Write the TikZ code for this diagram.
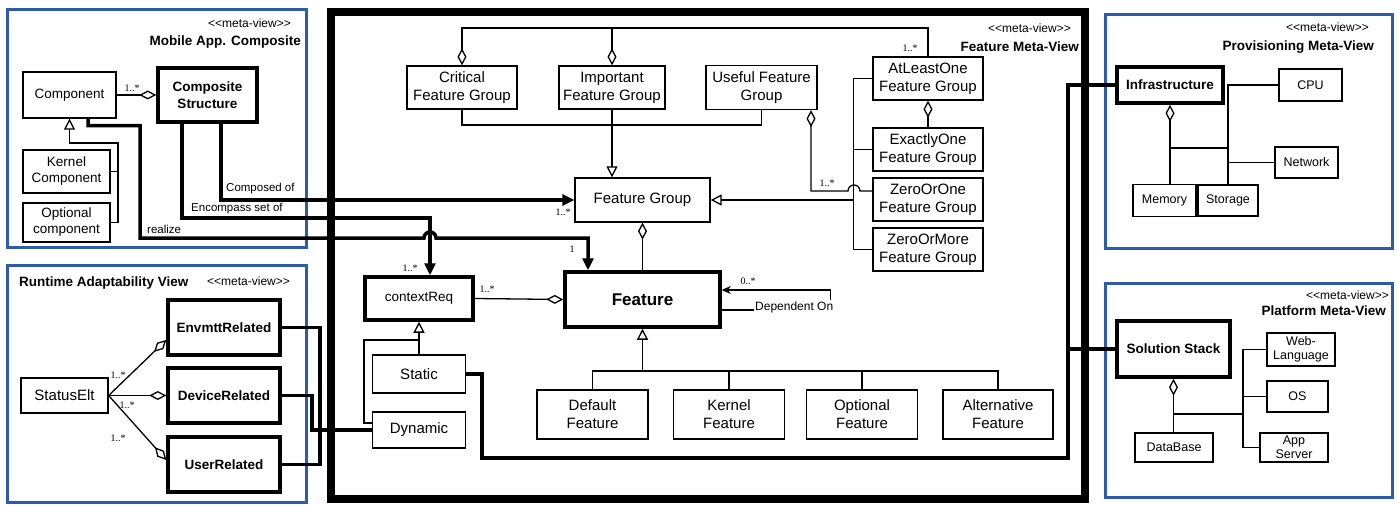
\documentclass[tikz,border=0pt]{standalone}
\usepackage{fontspec}
\setmainfont{Liberation Sans}
\newfontfamily\multfont{Liberation Serif}
\usepackage{tikz}
\usetikzlibrary{arrows.meta, positioning}
\definecolor{viewblue}{RGB}{46,92,168}
\tikzstyle{classbox} = [rectangle, 
draw=black, 
line width=1.3pt, 
align=center, 
inner sep=0pt, 
font=\fontsize{15}{18}\selectfont]
\tikzstyle{groupbox} = [classbox, 
minimum width=110pt, 
minimum height=43pt]
\tikzstyle{featbox} = [classbox, 
minimum width=111pt, 
minimum height=49pt]
\tikzstyle{compbox} = [classbox, 
minimum width=87pt, 
font=\fontsize{13.5}{16}\selectfont]
\tikzstyle{smallbox} = [classbox, 
font=\fontsize{12.5}{14}\selectfont]
\tikzstyle{keybox} = [classbox, 
line width=3.5pt, 
font=\fontsize{13.5}{17}\selectfont\bfseries]
\tikzstyle{viewframe} = [draw=viewblue, line width=3pt]
\tikzstyle{stereo} = [font=\fontsize{12}{14}\selectfont, inner sep=0pt, anchor=east]
\tikzstyle{viewname} = [font=\fontsize{13.5}{16}\selectfont\bfseries, inner sep=0pt, anchor=east]
\tikzstyle{mult} = [font=\multfont\fontsize{10}{12}\selectfont, inner sep=1pt]
\tikzstyle{rolename} = [font=\fontsize{11.5}{14}\selectfont, inner sep=1pt, anchor=west]
\tikzstyle{thinline} = [line width=1.3pt]
\tikzstyle{aggr} = [thinline, -{Diamond[open, length=17pt, width=9pt]}]
\tikzstyle{inherit} = [thinline, -{Triangle[open, length=11pt, width=11pt]}]
\tikzstyle{depend} = [thinline, -{Stealth[length=9pt, width=8pt]}]
\tikzstyle{link} = [line width=3.5pt]
\tikzstyle{linkarrow} = [link, -{Triangle[length=12pt, width=11pt]}]

\begin{document}
\begin{tikzpicture}[x=1pt, y=-1pt, node distance=50pt]
\useasboundingbox (0,0) rectangle (1397,505);

% views
\draw [viewframe] (7,10) rectangle (306,247);
\draw [viewframe] (7,265) rectangle (306,502);
\draw [viewframe] (1105,15) rectangle (1392,248);
\draw [viewframe] (1105,283) rectangle (1392,497);
\draw [line width=8pt] (331,12) rectangle (1085,499);

\node (mobile_stereo) [stereo] at (291,23) {<{}<meta-view>{}>};
\node (mobile_name) [viewname] at (301,42) {Mobile App. Composite};
\node (runtime_name) [viewname, anchor=west] at (19,283) {Runtime Adaptability View};
\node (runtime_stereo) [stereo, anchor=west] at (207,281) {<{}<meta-view>{}>};
\node (feature_stereo) [stereo] at (1071,28) {<{}<meta-view>{}>};
\node (feature_name) [viewname] at (1079,47) {Feature Meta-View};
\node (prov_stereo) [stereo] at (1369,27) {<{}<meta-view>{}>};
\node (prov_name) [viewname] at (1374,47) {Provisioning Meta-View};
\node (plat_stereo) [stereo] at (1389,295) {<{}<meta-view>{}>};
\node (plat_name) [viewname] at (1386,311) {Platform Meta-View};

% mobile app composite
\node (component) [compbox, minimum width=93pt, minimum height=46pt] at (69.5,95) {Component};
\node (composite) [keybox, minimum width=99pt, minimum height=54pt] at (207.5,95) {Composite\\Structure};
\node (kernel_comp) [compbox, minimum height=43pt, below of=component, xshift=-3pt, yshift=-26.5pt] {Kernel\\Component};
\node (optional_comp) [compbox, minimum height=39pt, below of=kernel_comp, yshift=-1pt] {Optional\\component};

% runtime adaptability
\node (status_elt) [classbox, minimum width=87pt, minimum height=35pt] at (64.5,395.5) {StatusElt};
\node (device) [keybox, minimum width=112pt, minimum height=55pt, right of=status_elt, xshift=109.5pt] {DeviceRelated};
\node (envmtt) [keybox, minimum width=112pt, minimum height=55pt, above of=device, yshift=18pt] {EnvmttRelated};
\node (user) [keybox, minimum width=112pt, minimum height=55pt, below of=device, yshift=-19pt] {UserRelated};

% feature meta-view
\node (crit_fg) [groupbox] at (462,87.5) {Critical\\Feature Group};
\node (imp_fg) [groupbox, minimum width=106pt, right of=crit_fg, xshift=100pt] {Important\\Feature Group};
\node (useful_fg) [groupbox, minimum width=111pt, minimum height=44pt, right of=imp_fg, xshift=99.5pt] {Useful Feature\\Group};
\node (atleast_fg) [groupbox] at (928,78.5) {AtLeastOne\\Feature Group};
\node (exactly_fg) [groupbox, below of=atleast_fg, yshift=-21pt] {ExactlyOne\\Feature Group};
\node (zero_one_fg) [groupbox, below of=exactly_fg] {ZeroOrOne\\Feature Group};
\node (zero_more_fg) [groupbox, below of=zero_one_fg] {ZeroOrMore\\Feature Group};
\node (feature_group) [classbox, minimum width=135pt, minimum height=44pt] at (642.5,200) {Feature Group};
\node (feature) [keybox, minimum width=155pt, minimum height=55pt, font=\fontsize{17}{20}\selectfont\bfseries, below of=feature_group, yshift=-49.5pt] {Feature};
\node (context_req) [keybox, minimum width=108pt, minimum height=43pt, font=\fontsize{13.5}{16}\selectfont] at (419,298.5) {contextReq};
\node (static) [classbox, minimum width=93pt, minimum height=38pt, below of=context_req, yshift=-25.5pt] {Static};
\node (dynamic) [classbox, minimum width=93pt, minimum height=36pt, below of=static, yshift=-6pt] {Dynamic};
\node (default_f) [featbox] at (592.5,414.5) {Default\\Feature};
\node (kernel_f) [featbox, right of=default_f, xshift=86.5pt] {Kernel\\Feature};
\node (optional_f) [featbox, right of=kernel_f, xshift=83pt] {Optional\\Feature};
\node (alt_f) [featbox, minimum width=110pt, right of=optional_f, xshift=86pt] {Alternative\\Feature};
\node (dep_on) [rolename, font=\fontsize{12}{14}\selectfont] at (754,307) {Dependent On};

% provisioning
\node (infra) [keybox, minimum width=106pt, minimum height=36pt] at (1170,85) {Infrastructure};
\node (cpu) [smallbox, minimum width=63pt, minimum height=32pt, right of=infra, xshift=90.5pt] {CPU};
\node (network) [smallbox, minimum width=63pt, minimum height=31pt] at (1306.5,162.5) {Network};
\node (memory) [smallbox, minimum width=63pt, minimum height=32pt] at (1164.5,200.5) {Memory};
\node (storage) [smallbox, minimum width=60pt, minimum height=31pt, right of=memory, xshift=13.5pt] {Storage};

% platform
\node (sol_stack) [keybox, minimum width=113pt, minimum height=56pt] at (1173.5,349) {Solution Stack};
\node (web_lang) [smallbox, minimum width=68pt, minimum height=33pt] at (1301,349.5) {Web-\\Language};
\node (os) [smallbox, minimum width=61pt, minimum height=31pt, below of=web_lang, xshift=-3.5pt, yshift=3pt] {OS};
\node (app_server) [smallbox, minimum width=68pt, minimum height=29pt, below of=os, xshift=-3.5pt, yshift=-1pt] {App\\Server};
\node (database) [smallbox, minimum width=78pt, minimum height=29pt] at (1174,447.5) {DataBase};

\coordinate (comp_bus) at (118,143);
\coordinate (enc_turn) at (430,218);
\coordinate (fg_top) at (928,28);
\coordinate (fg_bottom) at (761.5,125);
\coordinate (fg_bus) at (854,200);
\coordinate (feat_bus) at (642.5,371);
\coordinate (ctx_join) at (419.5,340);
\coordinate (stack_link) at (1068,349);
\coordinate (prov_join) at (1170,148);
\coordinate (stack_join) at (1173.5,414);
\coordinate (plat_bus) at (1243,447.5);

% mobile app composite links
\draw [aggr] (component) -- (composite);
\draw [inherit] (kernel_comp.east) -| (comp_bus) -| (component.south);
\draw [thinline] (optional_comp.east) -| (comp_bus);
\draw [linkarrow] ([xshift=13.5pt]composite.south) |- (feature_group.west);
\draw [linkarrow] ([xshift=-25.5pt]composite.south) |- (enc_turn) -- ([xshift=11pt]context_req.north);
\draw [linkarrow] ([xshift=18.5pt]component.south) -- ++(0,7) -| (140,238) -- (424,238) arc[start angle=180, end angle=0, radius=6pt] -| ([xshift=-54.5pt]feature.north);
\node (mult_comp) [mult] at (132,88) {1..*};
\node (composed_of) [rolename] at (225,189) {Composed of};
\node (encompass) [rolename] at (190,209) {Encompass set of};
\node (realize) [rolename] at (146,229) {realize};
\node (mult_fg) [mult] at (563,212) {1..*};
\node (mult_ctx) [mult] at (410,268) {1..*};
\node (mult_feat) [mult] at (572,249) {1};

% runtime adaptability links
\draw [aggr] (status_elt.east) -- ([yshift=-12.5pt]envmtt.west);
\draw [aggr] (status_elt.east) -- (device.west);
\draw [aggr] (status_elt.east) -- ([yshift=4.5pt]user.west);
\draw [link] (envmtt.east) -- ++(38,0) |- (user.east);
\draw [link] (device.east) -- ++(30,0) |- (dynamic.west);
\node (mult_env) [mult] at (118,375) {1..*};
\node (mult_dev) [mult] at (127,405) {1..*};
\node (mult_user) [mult] at (118,438) {1..*};

% feature meta-view links
\draw [aggr] (atleast_fg.north) -- (fg_top) -| (crit_fg.north);
\draw [aggr] (imp_fg.north |- fg_top) -- (imp_fg.north);
\draw [thinline] (crit_fg.south) |- (fg_bottom) -- (useful_fg.south);
\draw [inherit] (imp_fg.south) -- (imp_fg.south |- feature_group.north);
\draw [thinline] (atleast_fg.west) -- ++(-19,0) |- (zero_more_fg.west);
\draw [thinline] (exactly_fg.west) -- ++(-19,0);
\draw [inherit] (fg_bus) -- (feature_group.east);
\draw [aggr] ([yshift=8.5pt]zero_one_fg.west) -- (860,191) arc[start angle=0, end angle=180, radius=6pt] -| ([xshift=49.5pt]useful_fg.south);
\draw [aggr] (exactly_fg.north) -- (atleast_fg.south);
\draw [aggr] (feature.north) -- (feature_group.south);
\draw [aggr] (context_req.east) -- (feature.west);
\draw [inherit] (static.north) -- (context_req.south);
\draw [thinline] ([yshift=7pt]dynamic.west) -- ++(-8,0) |- (ctx_join);
\draw [thinline] (default_f.north) |- (feat_bus) -| (alt_f.north);
\draw [thinline] (kernel_f.north) -- (kernel_f.north |- feat_bus);
\draw [thinline] (optional_f.north) -- (optional_f.north |- feat_bus);
\draw [inherit] (feat_bus) -- (feature.south);
\draw [thinline] (feature.east |- dep_on.base) -- (dep_on.base west);
\draw [depend] ([xshift=-4pt]dep_on.north east) |- ([yshift=9.5pt]feature.east);
\draw [link] (static.east) -- ++(16,0) |- (1068,458) |- (infra.west);
\draw [link] (sol_stack.west) -- (stack_link);
\node (mult_at) [mult] at (910,48) {1..*};
\node (mult_useful) [mult] at (827,183) {1..*};
\node (mult_req) [mult] at (487,289) {1..*};
\node (mult_dep) [mult] at (748,281) {0..*};

% provisioning links
\draw [aggr] (memory.north -| infra.south) -- (infra.south);
\draw [thinline] (prov_join) -| (storage.north);
\draw [thinline] (cpu.west) -| (storage.north);
\draw [thinline] (network.west) -- (network.west -| storage.north);

% platform links
\draw [aggr] (database.north -| sol_stack.south) -- (sol_stack.south);
\draw [thinline] (web_lang.west) -| (plat_bus) -- (app_server.west);
\draw [thinline] (os.west) -- (os.west -| plat_bus);
\draw [thinline] (stack_join) -- (stack_join -| plat_bus);

\end{tikzpicture}
\end{document}
